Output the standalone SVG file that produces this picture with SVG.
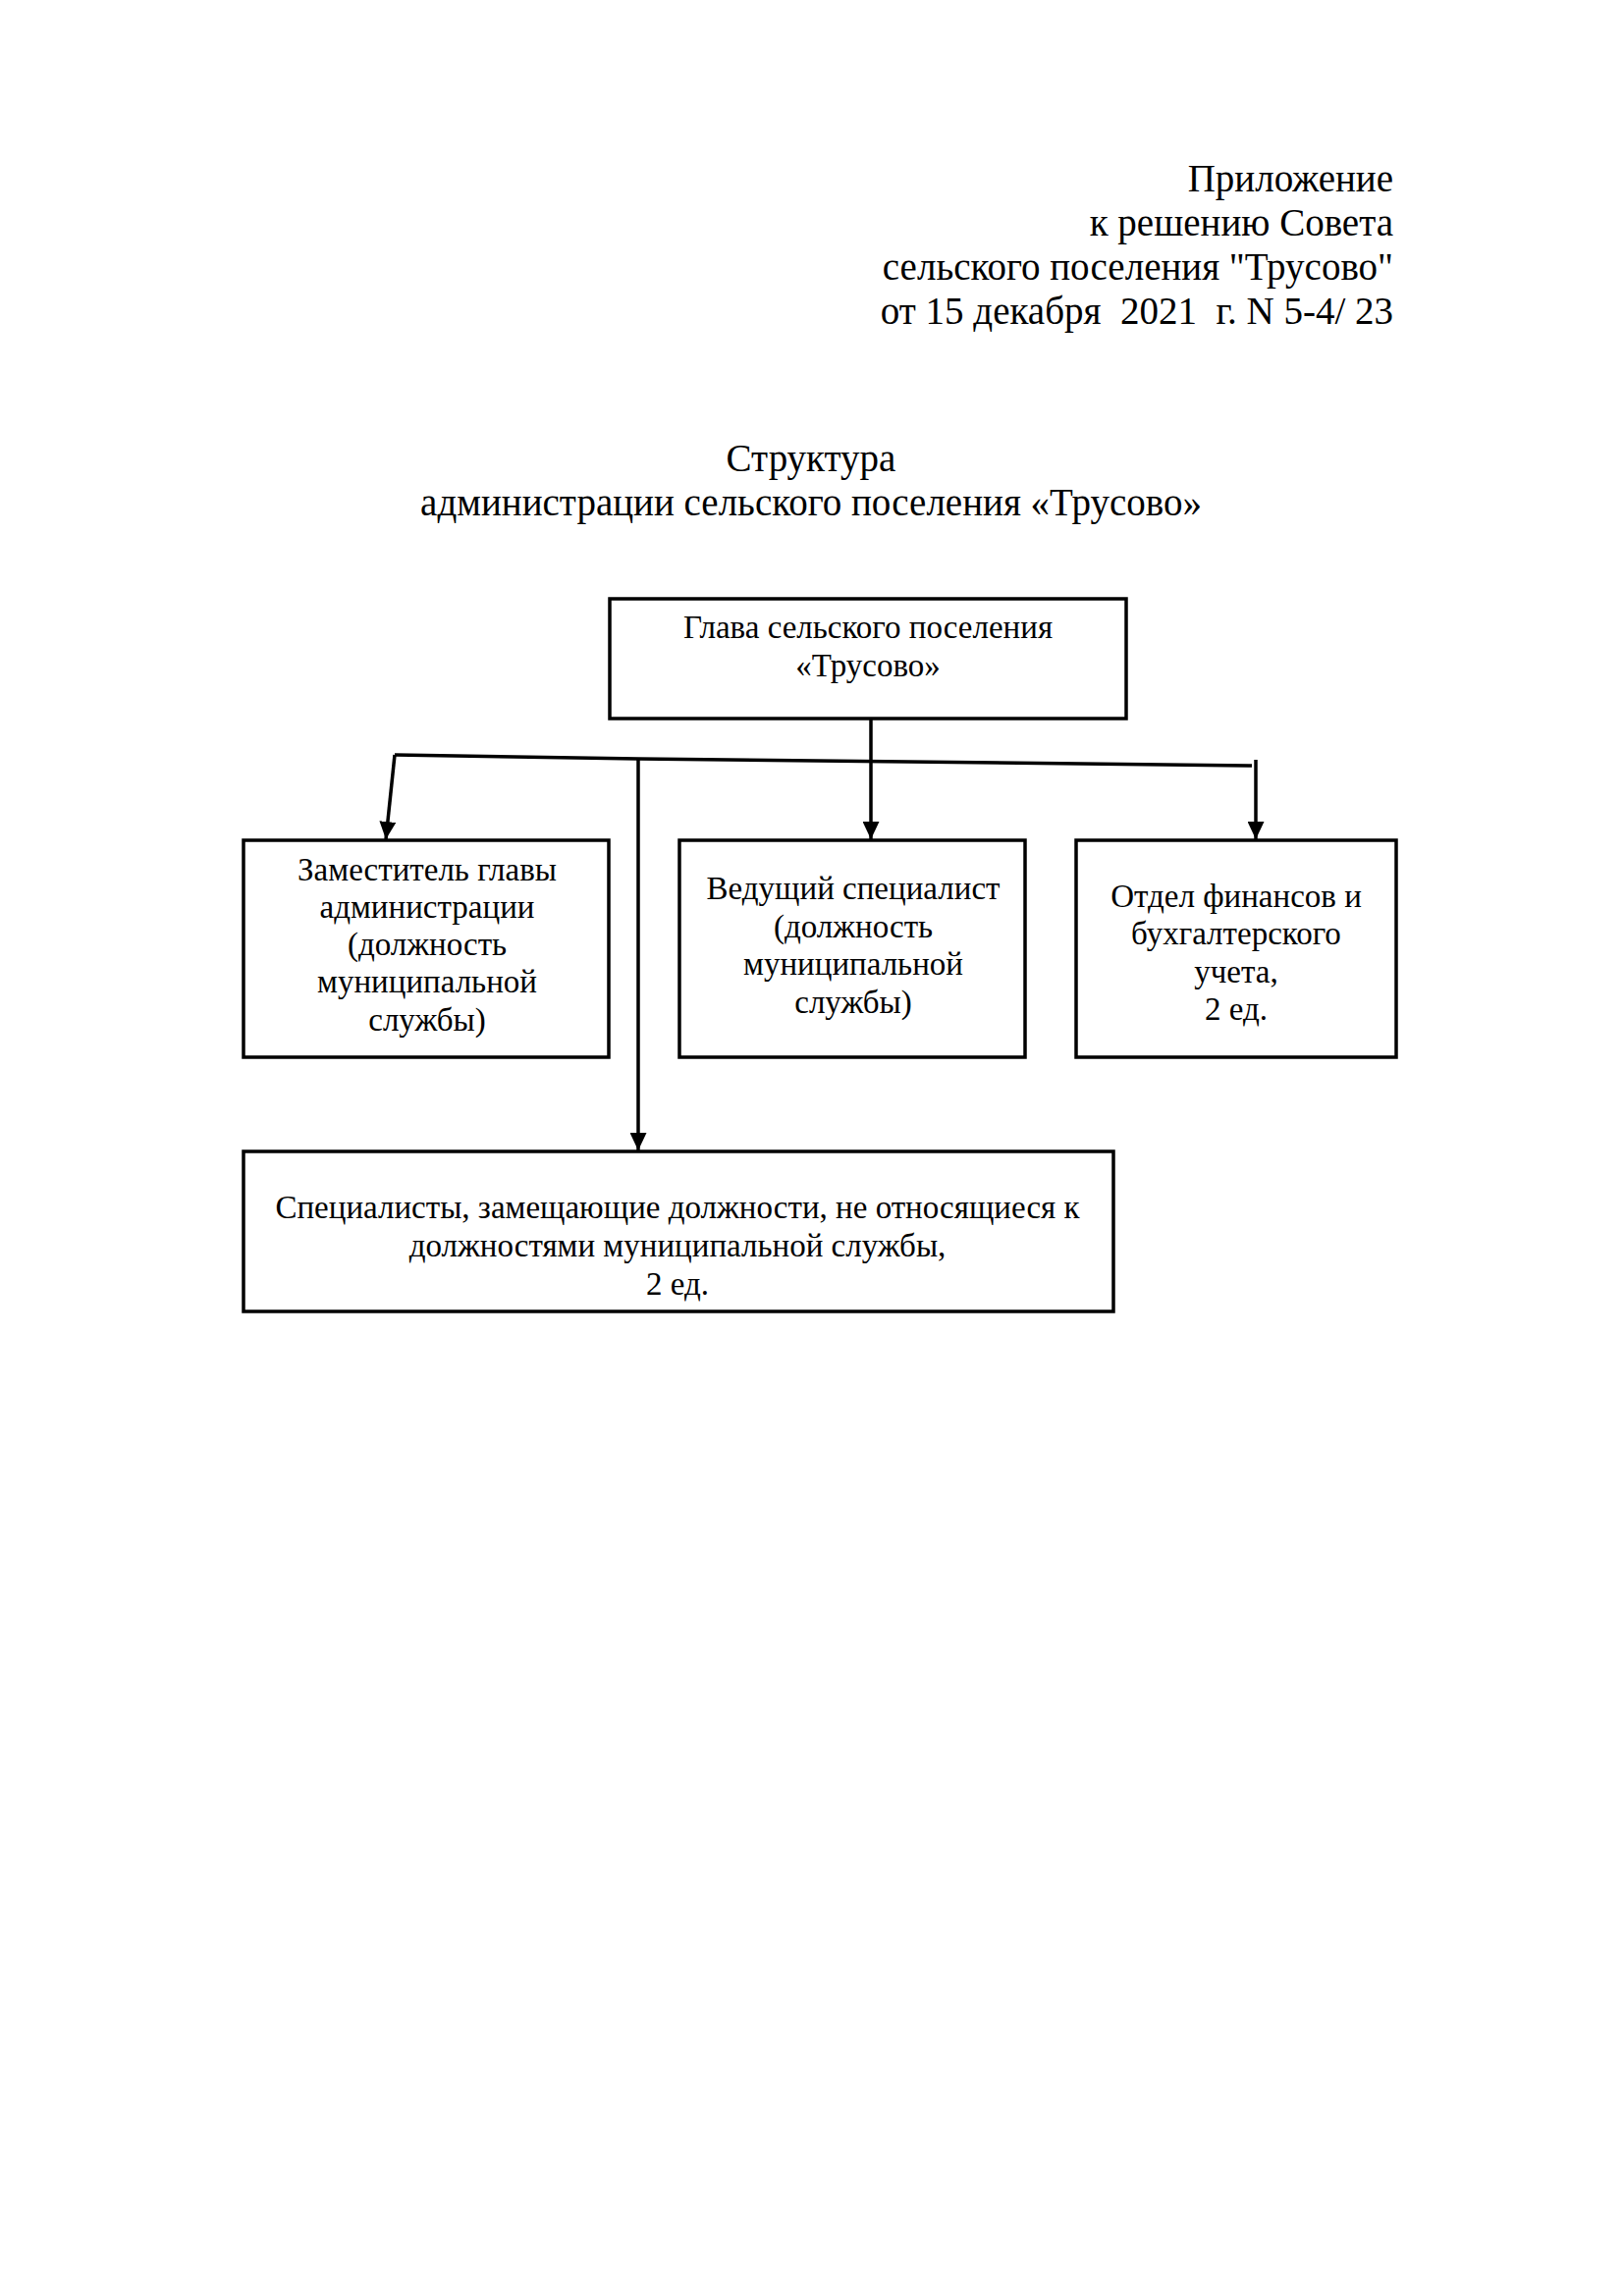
<svg xmlns="http://www.w3.org/2000/svg" width="1654" height="2339" viewBox="0 0 1654 2339">
<defs>
<marker id="arr" markerWidth="18" markerHeight="17" refX="18" refY="8.5" orient="auto" markerUnits="userSpaceOnUse" viewBox="0 0 18 17">
<path d="M0,0 L18,8.5 L0,17 Z" fill="#000"/>
</marker>
<style>
.t{font-family:"Liberation Serif","Times New Roman",serif;fill:#000}
.h{font-size:39px}
.b{font-size:33px;text-anchor:middle}
.box{fill:none;stroke:#000;stroke-width:3.5}
.ln{fill:none;stroke:#000;stroke-width:3.5}
</style>
</defs>
<rect width="1654" height="2339" fill="#fff"/>
<g id="header" class="t h" text-anchor="end">
<text x="1419" y="195">Приложение</text>
<text x="1419" y="240">к решению Совета</text>
<text x="1419" y="285">сельского поселения "Трусово"</text>
<text x="1419" y="330" xml:space="preserve">от 15 декабря  2021  г. N 5-4/ 23</text>
</g>
<g id="title" class="t h" text-anchor="middle">
<text x="826" y="480">Структура</text>
<text x="826" y="525">администрации сельского поселения «Трусово»</text>
</g>
<g id="connectors">
<path class="ln" d="M402,769 L650,773 L1275,780"/>
<path class="ln" d="M402,769 L393,855" marker-end="url(#arr)"/>
<path class="ln" d="M887,732 L887,855" marker-end="url(#arr)"/>
<path class="ln" d="M1279,774 L1279,855" marker-end="url(#arr)"/>
<path class="ln" d="M650,773 L650,1172" marker-end="url(#arr)"/>
</g>
<g id="glava">
<rect class="box" x="621" y="610" width="526" height="122"/>
<text class="t b" x="884" y="650">Глава сельского поселения</text>
<text class="t b" x="884" y="689">«Трусово»</text>
</g>
<g id="zam">
<rect class="box" x="248" y="856" width="372" height="221"/>
<text class="t b" x="435" y="897">Заместитель главы</text>
<text class="t b" x="435" y="935">администрации</text>
<text class="t b" x="435" y="973">(должность</text>
<text class="t b" x="435" y="1011">муниципальной</text>
<text class="t b" x="435" y="1050">службы)</text>
</g>
<g id="ved">
<rect class="box" x="692" y="856" width="352" height="221"/>
<text class="t b" x="869" y="916">Ведущий специалист</text>
<text class="t b" x="869" y="955">(должность</text>
<text class="t b" x="869" y="993">муниципальной</text>
<text class="t b" x="869" y="1032">службы)</text>
</g>
<g id="otdel">
<rect class="box" x="1096" y="856" width="326" height="221"/>
<text class="t b" x="1259" y="924">Отдел финансов и</text>
<text class="t b" x="1259" y="962">бухгалтерского</text>
<text class="t b" x="1259" y="1001">учета,</text>
<text class="t b" x="1259" y="1039">2 ед.</text>
</g>
<g id="spec">
<rect class="box" x="248" y="1173" width="886" height="163"/>
<text class="t b" x="690" y="1241">Специалисты, замещающие должности, не относящиеся к</text>
<text class="t b" x="690" y="1280">должностями муниципальной службы,</text>
<text class="t b" x="690" y="1319">2 ед.</text>
</g>
</svg>
